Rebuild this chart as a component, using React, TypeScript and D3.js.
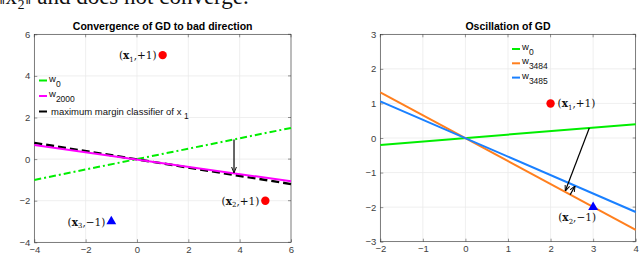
import React, { useEffect } from 'react';
import * as d3 from 'd3';

// left panel: lines given by their end points over the x range
const leftW0: [number, number][] = [[-4, -1], [6, 1.5]];
const leftW2000: [number, number][] = [[-4, 0.68], [6, -1.07]];
const leftMaxMargin: [number, number][] = [[-4, 0.78], [6, -1.2]];
const leftArrow: [number, number][] = [[3.78, 0.94], [3.78, -0.64]];
const leftXTicks = [-4, -2, 0, 2, 4, 6];
const leftYTicks = [-4, -2, 0, 2, 4, 6];
const leftPoints = [
  { x: 1, y: 5, kind: 'circle', sub: '1', label: '+1)' },
  { x: 5, y: -2, kind: 'circle', sub: '2', label: '+1)' },
  { x: -1, y: -3, kind: 'triangle', sub: '3', label: '\u22121)' },
];

// right panel
const rightW0: [number, number][] = [[-2, -0.2], [4, 0.4]];
const rightW3484: [number, number][] = [[-2, 1.32], [4, -2.66]];
const rightW3485: [number, number][] = [[-2, 1.06], [4, -2.14]];
const rightArrowBig: [number, number][] = [[2.91, 0.29], [2.35, -1.52]];
const rightArrowSmall: [number, number][] = [[2.46, -1.64], [2.57, -1.4]];
const rightXTicks = [-2, -1, 0, 1, 2, 3, 4];
const rightYTicks = [-3, -2, -1, 0, 1, 2, 3];
const rightPoints = [
  { x: 2, y: 1, kind: 'circle', sub: '1', label: '+1)' },
  { x: 3, y: -2, kind: 'triangle', sub: '2', label: '\u22121)' },
];

const App = () => {
  useEffect(() => {
    const width = 640;
    const height = 254;
    d3.select('#Chart svg').remove();

    const svg = d3.select('#Chart')
      .append('svg')
      .attr('width', width)
      .attr('height', height)
      .style('font-family', 'Liberation Sans, Arial, sans-serif');

    const defs = svg.append('defs');
    defs.append('marker')
      .attr('id', 'arrowHead')
      .attr('viewBox', '0 0 10 10')
      .attr('refX', 9)
      .attr('refY', 5)
      .attr('markerWidth', 5)
      .attr('markerHeight', 5)
      .attr('orient', 'auto')
      .append('path')
      .attr('d', 'M0,1 L10,5 L0,9')
      .attr('fill', 'none')
      .attr('stroke', 'black')
      .attr('stroke-width', 1.6);

    // cropped sentence of the paper above the figure
    svg.append('text')
      .attr('x', -1)
      .attr('y', 4)
      .style('font-family', 'Liberation Serif, Times New Roman, serif')
      .style('font-size', '23px')
      .attr('fill', '#111')
      .text('\u2016x\u2082\u2016 and does not converge.');

    const drawPanel = (opts) => {
      const { left, right, top, bottom, xDomain, yDomain, xTicks, yTicks, title } = opts;
      const x = d3.scaleLinear().domain(xDomain).range([left, right]);
      const y = d3.scaleLinear().domain(yDomain).range([bottom, top]);
      const g = svg.append('g');

      g.append('rect')
        .attr('x', left).attr('y', top)
        .attr('width', right - left).attr('height', bottom - top)
        .attr('fill', 'white');

      // grid
      g.selectAll('.gx').data(xTicks).enter().append('line')
        .attr('x1', d => x(d)).attr('x2', d => x(d))
        .attr('y1', top).attr('y2', bottom)
        .attr('stroke', '#ebebeb').attr('stroke-width', 0.8);
      g.selectAll('.gy').data(yTicks).enter().append('line')
        .attr('y1', d => y(d)).attr('y2', d => y(d))
        .attr('x1', left).attr('x2', right)
        .attr('stroke', '#ebebeb').attr('stroke-width', 0.8);

      // axes
      const xAxis = g.append('g')
        .attr('transform', `translate(0, ${bottom})`)
        .call(d3.axisBottom(x).tickValues(xTicks).tickSize(-3).tickPadding(4).tickFormat(d3.format('d')));
      const yAxis = g.append('g')
        .attr('transform', `translate(${left}, 0)`)
        .call(d3.axisLeft(y).tickValues(yTicks).tickSize(-3).tickPadding(4).tickFormat(d3.format('d')));
      [xAxis, yAxis].forEach(a => {
        a.select('.domain').remove();
        a.selectAll('line').attr('stroke', '#4d4d4d').attr('stroke-width', 0.6);
        a.selectAll('text')
          .attr('fill', '#404040')
          .style('font-size', '9.5px')
          .style('font-family', 'Liberation Sans, Arial, sans-serif');
      });
      // top / right ticks of the box
      g.selectAll('.tt').data(xTicks).enter().append('line')
        .attr('x1', d => x(d)).attr('x2', d => x(d))
        .attr('y1', top).attr('y2', top + 3)
        .attr('stroke', '#4d4d4d').attr('stroke-width', 0.6);
      g.selectAll('.rt').data(yTicks).enter().append('line')
        .attr('y1', d => y(d)).attr('y2', d => y(d))
        .attr('x1', right).attr('x2', right - 3)
        .attr('stroke', '#4d4d4d').attr('stroke-width', 0.6);

      g.append('rect')
        .attr('x', left).attr('y', top)
        .attr('width', right - left).attr('height', bottom - top)
        .attr('fill', 'none')
        .attr('stroke', '#333')
        .attr('stroke-width', 0.6);

      g.append('text')
        .attr('x', (left + right) / 2)
        .attr('y', top - 4)
        .attr('text-anchor', 'middle')
        .style('font-size', '10.5px')
        .style('font-weight', 'bold')
        .attr('fill', '#000')
        .text(title);

      return { g, x, y };
    };

    const line = (x, y) => d3.line<[number, number]>().x(d => x(d[0])).y(d => y(d[1]));

    const drawLabel = (g, px, py, sub, rest, anchor) => {
      const t = g.append('text')
        .attr('x', px)
        .attr('y', py)
        .attr('text-anchor', anchor)
        .style('font-family', 'DejaVu Serif, Liberation Serif, serif')
        .style('font-size', '10.5px')
        .attr('fill', '#111');
      t.append('tspan').text('(');
      t.append('tspan').style('font-weight', 'bold').text('x');
      t.append('tspan').attr('dy', 2.5).style('font-size', '7px').text(sub);
      t.append('tspan').attr('dy', -2.5).text(',' + rest);
    };

    const drawMarker = (g, px, py, kind) => {
      if (kind === 'circle') {
        g.append('circle').attr('cx', px).attr('cy', py).attr('r', 4.2).attr('fill', '#ff0000');
      } else {
        g.append('path')
          .attr('transform', `translate(${px}, ${py})`)
          .attr('d', d3.symbol().type(d3.symbolTriangle).size(42)())
          .attr('fill', '#0000ff');
      }
    };

    const drawLegend = (g, lx, ly, step, items) => {
      items.forEach((it, i) => {
        const yy = ly + i * step;
        g.append('line')
          .attr('x1', lx).attr('x2', lx + 8)
          .attr('y1', yy).attr('y2', yy)
          .attr('stroke', it.color).attr('stroke-width', 2);
        const t = g.append('text')
          .attr('x', lx + 10)
          .attr('y', yy + 1)
          .style('font-size', '9.5px')
          .attr('fill', '#111');
        t.append('tspan').text(it.main);
        t.append('tspan').attr('dy', 5).style('font-size', '8.5px').text(it.sub);
      });
    };

    // ---- left panel
    const L = drawPanel({
      left: 34.3, right: 291, top: 34.3, bottom: 242.3,
      xDomain: [-4, 6], yDomain: [-4, 6],
      xTicks: leftXTicks, yTicks: leftYTicks,
      title: 'Convergence of GD to bad direction',
    });
    const lLine = line(L.x, L.y);
    L.g.append('path').datum(leftW0).attr('d', lLine)
      .attr('fill', 'none').attr('stroke', '#00ee00').attr('stroke-width', 2)
      .attr('stroke-dasharray', '7,3,2,3');
    L.g.append('path').datum(leftMaxMargin).attr('d', lLine)
      .attr('fill', 'none').attr('stroke', '#000').attr('stroke-width', 2.4)
      .attr('stroke-dasharray', '8,4');
    L.g.append('path').datum(leftW2000).attr('d', lLine)
      .attr('fill', 'none').attr('stroke', '#ff00ff').attr('stroke-width', 2);
    L.g.append('path').datum(leftArrow).attr('d', lLine)
      .attr('fill', 'none').attr('stroke', '#000').attr('stroke-width', 1.2)
      .attr('marker-end', 'url(#arrowHead)');

    leftPoints.forEach(p => {
      drawMarker(L.g, L.x(p.x), L.y(p.y), p.kind);
      drawLabel(L.g, L.x(p.x) - 6, L.y(p.y) + 4, p.sub, p.label, 'end');
    });

    drawLegend(L.g, 39, 80.5, 15.5, [
      { color: '#00ee00', main: 'w', sub: '0' },
      { color: '#ff00ff', main: 'w', sub: '2000' },
    ]);
    L.g.append('line')
      .attr('x1', 39).attr('x2', 47).attr('y1', 111.5).attr('y2', 111.5)
      .attr('stroke', '#000').attr('stroke-width', 2);
    const mm = L.g.append('text')
      .attr('x', 51).attr('y', 114.5)
      .style('font-size', '9.5px').attr('fill', '#111');
    mm.append('tspan').text('maximum margin classifier of x ');
    mm.append('tspan').attr('dy', 4).style('font-size', '8.5px').text('1');

    // ---- right panel
    const R = drawPanel({
      left: 380.3, right: 635.7, top: 34.3, bottom: 241.7,
      xDomain: [-2, 4], yDomain: [-3, 3],
      xTicks: rightXTicks, yTicks: rightYTicks,
      title: 'Oscillation of GD',
    });
    const rLine = line(R.x, R.y);
    R.g.append('path').datum(rightW0).attr('d', rLine)
      .attr('fill', 'none').attr('stroke', '#00ee00').attr('stroke-width', 2);
    R.g.append('path').datum(rightW3484).attr('d', rLine)
      .attr('fill', 'none').attr('stroke', '#ff7f1e').attr('stroke-width', 2);
    R.g.append('path').datum(rightW3485).attr('d', rLine)
      .attr('fill', 'none').attr('stroke', '#1a80ff').attr('stroke-width', 2);
    [rightArrowBig, rightArrowSmall].forEach(a => {
      R.g.append('path').datum(a).attr('d', rLine)
        .attr('fill', 'none').attr('stroke', '#000').attr('stroke-width', 1.2)
        .attr('marker-end', 'url(#arrowHead)');
    });

    const p1 = rightPoints[0];
    drawMarker(R.g, R.x(p1.x), R.y(p1.y), p1.kind);
    drawLabel(R.g, R.x(p1.x) + 7, R.y(p1.y) + 4, p1.sub, p1.label, 'start');
    const p2 = rightPoints[1];
    drawMarker(R.g, R.x(p2.x), R.y(p2.y), p2.kind);
    drawLabel(R.g, R.x(p2.x) - 16, R.y(p2.y) + 14, p2.sub, p2.label, 'middle');

    drawLegend(R.g, 512, 49, 14.3, [
      { color: '#00ee00', main: 'w', sub: '0' },
      { color: '#ff7f1e', main: 'w', sub: '3484' },
      { color: '#1a80ff', main: 'w', sub: '3485' },
    ]);
  }, []);

  return (
    <div id="Chart" style={{ position: 'absolute', left: 0, top: 0, width: 640, height: 254, background: 'white' }}></div>
  );
};

export default App;
